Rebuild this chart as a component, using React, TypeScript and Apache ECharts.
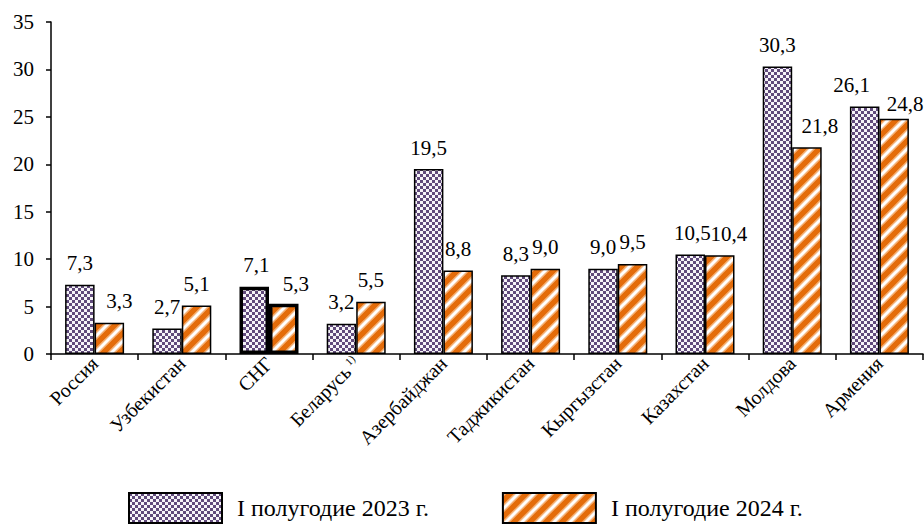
import React, { useEffect, useRef } from "react";
import * as echarts from "echarts";

const categories = ["Россия", "Узбекистан", "СНГ", "Беларусь{sup|1)}", "Азербайджан", "Таджикистан", "Кыргызстан", "Казахстан", "Молдова", "Армения"];
const values2023 = [7.3, 2.7, 7.1, 3.2, 19.5, 8.3, 9.0, 10.5, 30.3, 26.1];
const values2024 = [3.3, 5.1, 5.3, 5.5, 8.8, 9.0, 9.5, 10.4, 21.8, 24.8];
const seriesNames = ["I полугодие 2023 г.", "I полугодие 2024 г."];
const highlightIndex = 2;

// label nudges (style only): [seriesIndex, categoryIndex] -> [dx, dy]
const labelNudges: Record<string, [number, number]> = {
  "1-0": [10, 0],
  "0-2": [2, 0],
  "1-2": [12, 2],
  "0-7": [2, 0],
  "1-7": [9, 0],
  "1-8": [13, 0],
  "0-9": [-13, 0],
  "1-9": [11, 7],
};

const FONT = "Liberation Serif";

function checkerPattern() {
  const c = document.createElement("canvas");
  c.width = 6;
  c.height = 6;
  const g = c.getContext("2d")!;
  g.fillStyle = "#f6f4f8";
  g.fillRect(0, 0, 6, 6);
  g.fillStyle = "#604a7b";
  g.fillRect(0, 0, 3, 3);
  g.fillRect(3, 3, 3, 3);
  return { image: c, repeat: "repeat", imageWidth: 6, imageHeight: 6 } as any;
}

function stripePattern() {
  const s = 16;
  const c = document.createElement("canvas");
  c.width = s;
  c.height = s;
  const g = c.getContext("2d")!;
  g.fillStyle = "#e46c0a";
  g.fillRect(0, 0, s, s);
  g.lineCap = "square";
  const draw = (w: number, col: string) => {
    g.strokeStyle = col;
    g.lineWidth = w;
    g.beginPath();
    for (let k = -1; k <= 1; k++) {
      g.moveTo(k * s - 2, s + 2);
      g.lineTo(k * s + s + 2, -2);
    }
    g.stroke();
  };
  draw(6, "rgba(248,190,140,0.85)");
  draw(3, "#ffffff");
  return { image: c, repeat: "repeat", imageWidth: s, imageHeight: s } as any;
}

const fmt = (p: any) => Number(p.value).toFixed(1).replace(".", ",");

export default function App() {
  const ref = useRef<HTMLDivElement>(null);
  useEffect(() => {
    document.body.style.margin = "0";
    const chart = echarts.init(ref.current!, null, { renderer: "svg" });
    const pPurple = checkerPattern();
    const pOrange = stripePattern();
    const mk = (vals: number[], si: number) =>
      vals.map((v, i) => {
        const item: any = { value: v };
        if (i === highlightIndex) item.itemStyle = { borderWidth: 3.5 };
        const n = labelNudges[`${si}-${i}`];
        if (n) item.label = { offset: n };
        return item;
      });
    const labelCfg = {
      show: true,
      position: "top" as const,
      distance: 11,
      formatter: fmt,
      fontFamily: FONT,
      fontSize: 21,
      color: "#000",
    };
    chart.setOption({
      animation: false,
      textStyle: { fontFamily: FONT },
      grid: { left: 51, right: 1, top: 22, bottom: 174 },
      legend: {
        top: 492,
        left: 128,
        padding: 0,
        itemWidth: 93,
        itemHeight: 30,
        itemGap: 73,
        icon: "rect",
        textStyle: { fontFamily: FONT, fontSize: 24, color: "#000", padding: [0, 0, 0, 10] },
        data: seriesNames,
      },
      xAxis: {
        type: "category",
        data: categories,
        axisLine: { lineStyle: { color: "#000", width: 1.5 } },
        axisTick: { show: true, length: 6, lineStyle: { color: "#000", width: 1.5 } },
        axisLabel: {
          rotate: 45,
          interval: 0,
          margin: 6,
          color: "#000",
          fontFamily: FONT,
          fontSize: 20,
          rich: { sup: { fontSize: 11, verticalAlign: "top", padding: [0, 0, 9, 3], fontFamily: FONT, color: "#000" } },
        },
      },
      yAxis: {
        type: "value",
        min: 0,
        max: 35,
        interval: 5,
        splitLine: { show: false },
        axisLine: { show: true, lineStyle: { color: "#000", width: 1.5 } },
        axisTick: { show: true, length: 5, lineStyle: { color: "#000", width: 1.5 } },
        axisLabel: { color: "#000", fontFamily: FONT, fontSize: 21, margin: 17 },
      },
      series: [
        {
          name: seriesNames[0],
          type: "bar",
          data: mk(values2023, 0),
          barWidth: 29.5,
          barGap: "0%",
          itemStyle: { color: pPurple, borderColor: "#000", borderWidth: 1.5 },
          label: labelCfg,
        },
        {
          name: seriesNames[1],
          type: "bar",
          data: mk(values2024, 1),
          barWidth: 29.5,
          barGap: "0%",
          itemStyle: { color: pOrange, borderColor: "#000", borderWidth: 1.5 },
          label: labelCfg,
        },
      ],
    });
    return () => chart.dispose();
  }, []);
  return <div ref={ref} style={{ width: 924, height: 528 }} />;
}
